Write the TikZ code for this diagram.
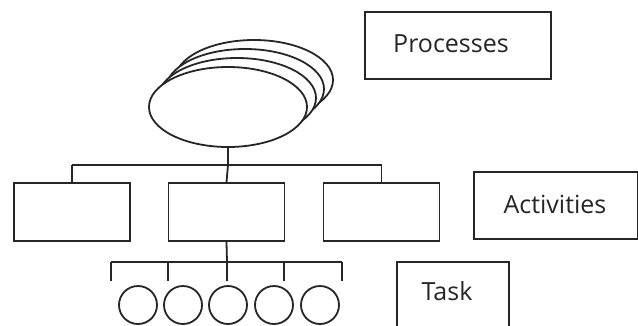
\documentclass[tikz,border=0pt]{standalone}
\usepackage{fontspec}
\setmainfont{Open Sans}
\usetikzlibrary{shapes.geometric}
\begin{document}
\begin{tikzpicture}[x=1pt,y=-1pt,
  ln/.style={line width=1.8pt, black!85},
  proc/.style={ln, draw, fill=white, ellipse, inner sep=0pt, minimum width=158pt, minimum height=80pt},
  actbox/.style={ln, draw, fill=white, inner sep=0pt, minimum width=116pt, minimum height=58pt},
  taskc/.style={ln, draw, fill=white, circle, inner sep=0pt, minimum size=38pt},
  lblbox/.style={ln, draw, fill=white, inner sep=0pt},
  lbltext/.style={inner sep=0pt, text=black!85, font=\fontsize{25}{28}\selectfont}]
\useasboundingbox (0,0) rectangle (638,325);
\fill[white] (0,0) rectangle (638,325);
% stacked process ellipses
\node[proc] (p3) at (254,80) {};
\node[proc] (p2) at (245,89) {};
\node[proc] (p1) at (237,98) {};
\node[proc] (p0) at (228,107) {};
% activities
\node[actbox] (a1) at (72,212) {};
\node[actbox] (a2) at (226.5,212) {};
\node[actbox] (a3) at (381.5,212) {};
\coordinate (bar) at (228,165);
\coordinate (barL) at (72,165);
\coordinate (barR) at (381.5,165);
\draw[ln] (p0.south) -- (bar);
\draw[ln] (barL) -- (barR);
\draw[ln] (barL) -- (a1.north);
\draw[ln] (bar) -- (a2.north);
\draw[ln] (barR) -- (a3.north);
% tasks
\node[taskc] (t1) at (138,305) {};
\node[taskc] (t2) at (183,305) {};
\node[taskc] (t3) at (228,305) {};
\node[taskc] (t4) at (274,305) {};
\node[taskc] (t5) at (320,305) {};
\coordinate (tb) at (227,262);
\coordinate (tbL) at (111,262);
\coordinate (tbR) at (342,262);
\coordinate (k1) at (111,281);
\coordinate (k2) at (168,281);
\coordinate (k3) at (227,281);
\coordinate (k4) at (284,281);
\coordinate (k5) at (342,281);
\coordinate (k2t) at (168,262);
\coordinate (k4t) at (284,262);
\draw[ln] (a2.south) -- (tb);
\draw[ln] (tbL) -- (tbR);
\draw[ln] (tbL) -- (k1);
\draw[ln] (k2t) -- (k2);
\draw[ln] (tb) -- (k3);
\draw[ln] (k4t) -- (k4);
\draw[ln] (tbR) -- (k5);
% legend labels
\node[lblbox, minimum width=186pt, minimum height=67pt] (lpbox) at (458,45.5) {};
\node[lbltext] (lp) at (451,44) {Processes};
\node[lblbox, minimum width=164pt, minimum height=67pt] (labox) at (556,205.5) {};
\node[lbltext] (la) at (555,204) {Activities};
\node[lblbox, anchor=north west, minimum width=112pt, minimum height=80pt] (ltbox) at (396,261) {};
\node[lbltext] (lt) at (447,291) {Task};
\end{tikzpicture}
\end{document}
